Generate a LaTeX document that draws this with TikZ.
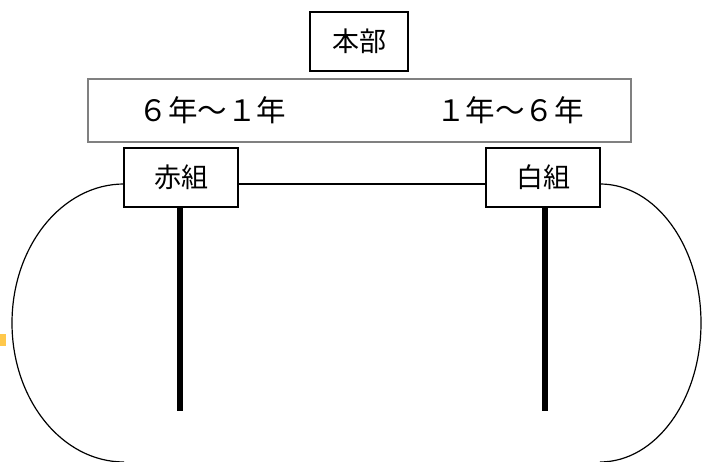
\documentclass[tikz,border=0pt]{standalone}
\usepackage{fontspec}
\setmainfont{Noto Sans CJK JP}
\begin{document}
\begin{tikzpicture}[x=1pt,y=1pt,
  boxstyle/.style={draw=black,line width=1.2pt,fill=white,inner sep=0pt,outer sep=0pt,font=\fontsize{27}{30}\selectfont},
  bandstyle/.style={draw=black!50,line width=1.2pt,fill=white,inner sep=0pt,outer sep=0pt},
  bandtext/.style={inner sep=0pt,font=\fontsize{29.5}{33}\selectfont},
  thinline/.style={line width=1.2pt},
  poleline/.style={line width=6pt},
  trackline/.style={line width=1.2pt}]
\useasboundingbox (0,0) rectangle (702,462);
\fill[white] (0,0) rectangle (702,462);
% headquarters
\node[boxstyle,minimum width=98pt,minimum height=59pt] (hq) at (359,420.5) {本部};
% band with grades
\node[bandstyle,minimum width=543pt,minimum height=63pt] (band) at (359.5,351.5) {};
\node[bandtext] (gl) at (212.5,351.5) {６年～１年};
\node[bandtext] (gr) at (510,351.5) {１年～６年};
% team boxes
\node[boxstyle,minimum width=114pt,minimum height=59pt] (aka) at (181,284.5) {赤組};
\node[boxstyle,minimum width=114pt,minimum height=59pt] (shiro) at (543,284.5) {白組};
% connector between teams
\coordinate (akaE) at ([yshift=-6.5pt]aka.east);
\coordinate (shiroW) at ([yshift=-6.5pt]shiro.west);
\draw[thinline] (akaE) -- (shiroW);
% track arcs
\coordinate (akaW) at ([yshift=-6.5pt]aka.west);
\coordinate (shiroE) at ([yshift=-6.5pt]shiro.east);
\draw[trackline] (akaW) arc[start angle=90,end angle=270,x radius=112,y radius=139];
\draw[trackline] (shiroE) arc[start angle=90,end angle=-90,x radius=101,y radius=139];
% poles
\coordinate (akaEnd) at (180,51);
\coordinate (shiroEnd) at (545,51);
\draw[poleline] (aka.south -| akaEnd) -- (akaEnd);
\draw[poleline] (shiro.south -| shiroEnd) -- (shiroEnd);
% stray orange mark
\fill[fill={rgb,255:red,255;green,200;blue,75}] (0,116) rectangle (6,128);
\end{tikzpicture}
\end{document}
